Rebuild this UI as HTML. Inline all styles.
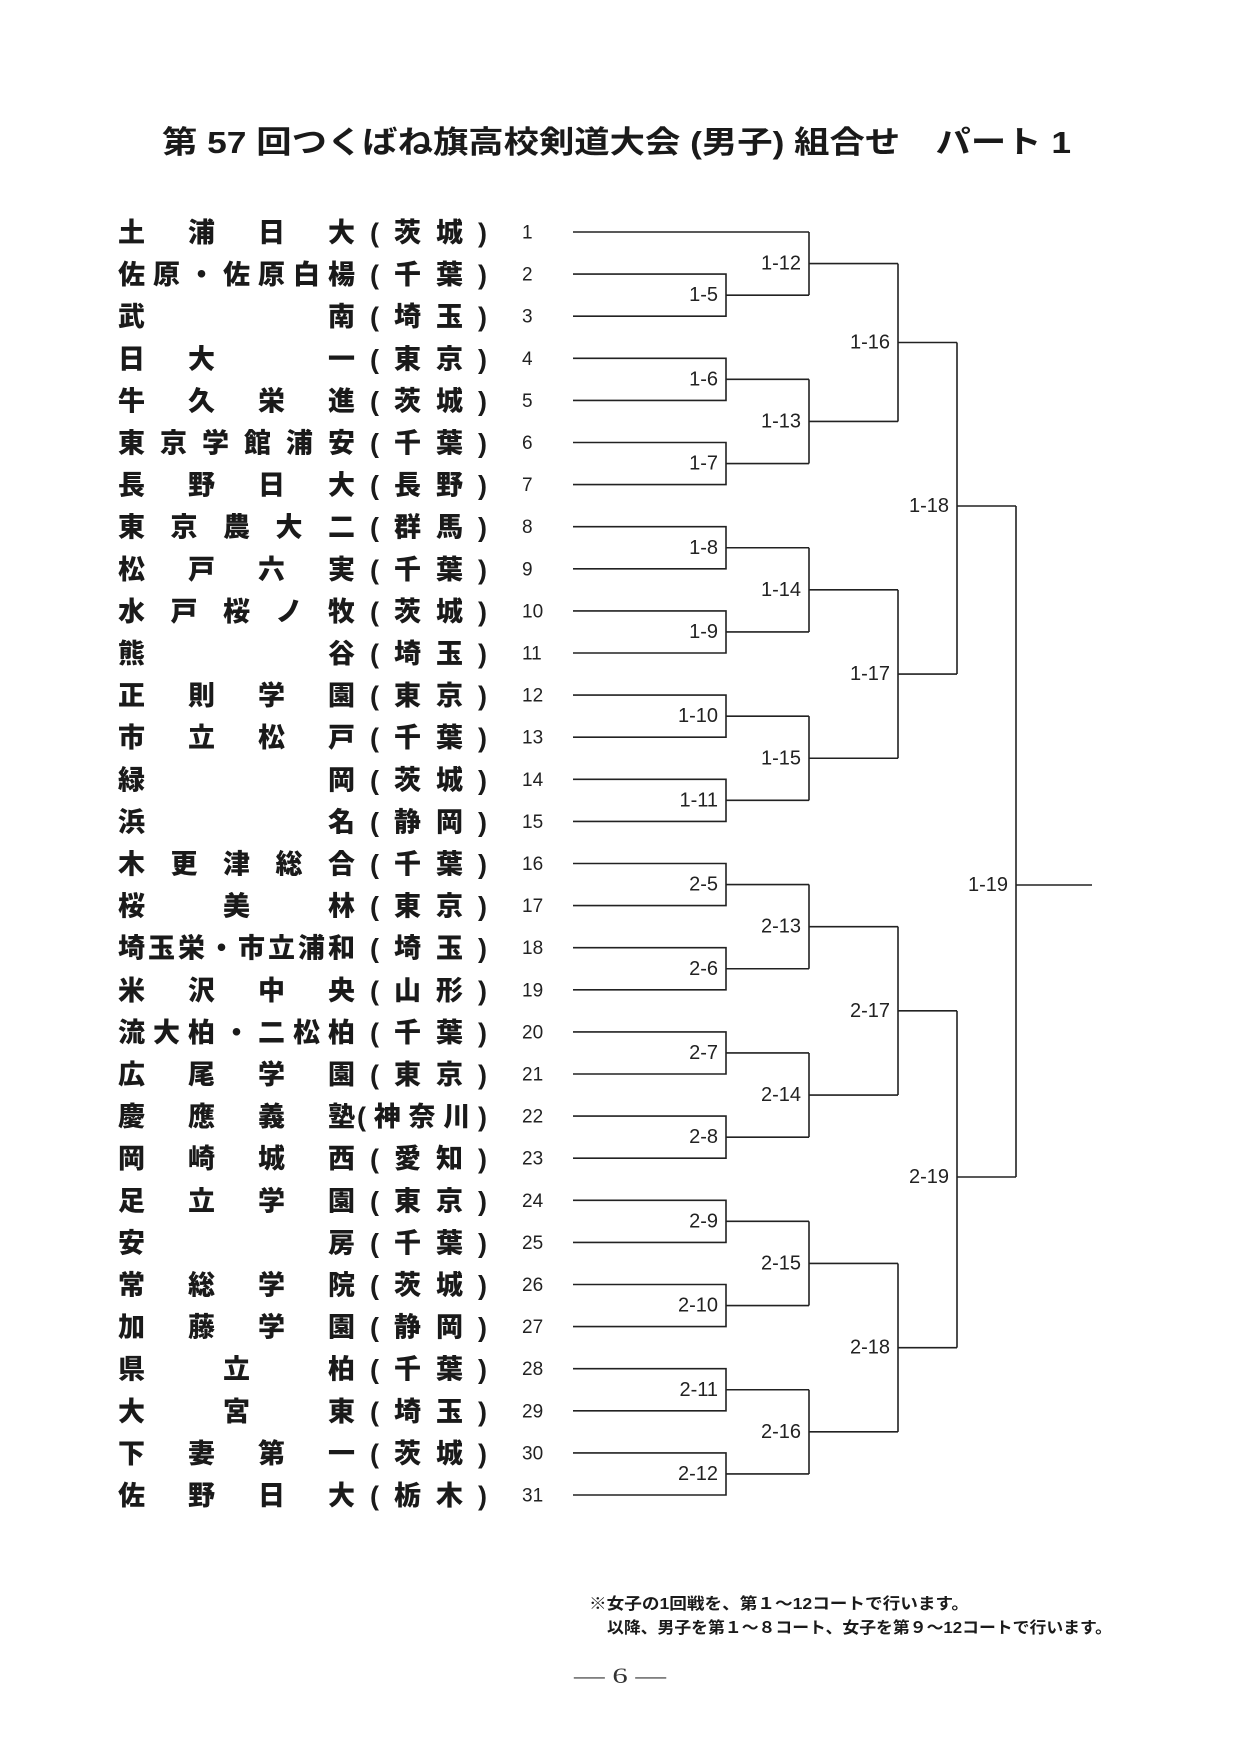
<!DOCTYPE html>
<html><head><meta charset="utf-8">
<style>
html,body{margin:0;padding:0;background:#fff;}
svg{display:block;}
.t{font-family:"Liberation Sans","Noto Sans CJK JP",sans-serif;font-weight:bold;fill:#1a1a1a;}
.n{font-family:"Liberation Sans","Noto Sans CJK JP",sans-serif;font-weight:900;font-size:27px;fill:#1a1a1a;dominant-baseline:central;}
.num{font-family:"Liberation Sans Narrow","Liberation Sans",sans-serif;font-size:19px;fill:#222;dominant-baseline:central;}
.lb{font-family:"Liberation Sans Narrow","Liberation Sans",sans-serif;font-size:20px;fill:#222;dominant-baseline:central;text-anchor:end;}
.ln{fill:none;stroke:#222;stroke-width:1.6;}
</style></head><body>
<svg width="1240" height="1753" viewBox="0 0 1240 1753" xmlns="http://www.w3.org/2000/svg">
<text class="t" x="162" y="153" font-size="31" textLength="909" lengthAdjust="spacingAndGlyphs">第 57 回つくばね旗高校剣道大会 (男子) 組合せ　パート 1</text>

<g class="n">
<text x="118" y="233" textLength="237" lengthAdjust="spacing">土浦日大</text>
<text x="118" y="275.1" textLength="237" lengthAdjust="spacing">佐原・佐原白楊</text>
<text x="118" y="317.2" textLength="237" lengthAdjust="spacing">武　　南</text>
<text x="118" y="359.3" textLength="237" lengthAdjust="spacing">日大　一</text>
<text x="118" y="401.4" textLength="237" lengthAdjust="spacing">牛久栄進</text>
<text x="118" y="443.5" textLength="237" lengthAdjust="spacing">東京学館浦安</text>
<text x="118" y="485.6" textLength="237" lengthAdjust="spacing">長野日大</text>
<text x="118" y="527.7" textLength="237" lengthAdjust="spacing">東京農大二</text>
<text x="118" y="569.8" textLength="237" lengthAdjust="spacing">松戸六実</text>
<text x="118" y="611.9" textLength="237" lengthAdjust="spacing">水戸桜ノ牧</text>
<text x="118" y="654" textLength="237" lengthAdjust="spacing">熊　　谷</text>
<text x="118" y="696.1" textLength="237" lengthAdjust="spacing">正則学園</text>
<text x="118" y="738.2" textLength="237" lengthAdjust="spacing">市立松戸</text>
<text x="118" y="780.3" textLength="237" lengthAdjust="spacing">緑　　岡</text>
<text x="118" y="822.4" textLength="237" lengthAdjust="spacing">浜　　名</text>
<text x="118" y="864.5" textLength="237" lengthAdjust="spacing">木更津総合</text>
<text x="118" y="906.6" textLength="237" lengthAdjust="spacing">桜　美　林</text>
<text x="118" y="948.7" textLength="237" lengthAdjust="spacing">埼玉栄・市立浦和</text>
<text x="118" y="990.8" textLength="237" lengthAdjust="spacing">米沢中央</text>
<text x="118" y="1032.9" textLength="237" lengthAdjust="spacing">流大柏・二松柏</text>
<text x="118" y="1075" textLength="237" lengthAdjust="spacing">広尾学園</text>
<text x="118" y="1117.1" textLength="237" lengthAdjust="spacing">慶應義塾</text>
<text x="118" y="1159.2" textLength="237" lengthAdjust="spacing">岡崎城西</text>
<text x="118" y="1201.3" textLength="237" lengthAdjust="spacing">足立学園</text>
<text x="118" y="1243.4" textLength="237" lengthAdjust="spacing">安　　房</text>
<text x="118" y="1285.5" textLength="237" lengthAdjust="spacing">常総学院</text>
<text x="118" y="1327.6" textLength="237" lengthAdjust="spacing">加藤学園</text>
<text x="118" y="1369.7" textLength="237" lengthAdjust="spacing">県　立　柏</text>
<text x="118" y="1411.8" textLength="237" lengthAdjust="spacing">大　宮　東</text>
<text x="118" y="1453.9" textLength="237" lengthAdjust="spacing">下妻第一</text>
<text x="118" y="1496" textLength="237" lengthAdjust="spacing">佐野日大</text>

<text x="370" y="233" textLength="117" lengthAdjust="spacing">(茨城)</text>
<text x="370" y="275.1" textLength="117" lengthAdjust="spacing">(千葉)</text>
<text x="370" y="317.2" textLength="117" lengthAdjust="spacing">(埼玉)</text>
<text x="370" y="359.3" textLength="117" lengthAdjust="spacing">(東京)</text>
<text x="370" y="401.4" textLength="117" lengthAdjust="spacing">(茨城)</text>
<text x="370" y="443.5" textLength="117" lengthAdjust="spacing">(千葉)</text>
<text x="370" y="485.6" textLength="117" lengthAdjust="spacing">(長野)</text>
<text x="370" y="527.7" textLength="117" lengthAdjust="spacing">(群馬)</text>
<text x="370" y="569.8" textLength="117" lengthAdjust="spacing">(千葉)</text>
<text x="370" y="611.9" textLength="117" lengthAdjust="spacing">(茨城)</text>
<text x="370" y="654" textLength="117" lengthAdjust="spacing">(埼玉)</text>
<text x="370" y="696.1" textLength="117" lengthAdjust="spacing">(東京)</text>
<text x="370" y="738.2" textLength="117" lengthAdjust="spacing">(千葉)</text>
<text x="370" y="780.3" textLength="117" lengthAdjust="spacing">(茨城)</text>
<text x="370" y="822.4" textLength="117" lengthAdjust="spacing">(静岡)</text>
<text x="370" y="864.5" textLength="117" lengthAdjust="spacing">(千葉)</text>
<text x="370" y="906.6" textLength="117" lengthAdjust="spacing">(東京)</text>
<text x="370" y="948.7" textLength="117" lengthAdjust="spacing">(埼玉)</text>
<text x="370" y="990.8" textLength="117" lengthAdjust="spacing">(山形)</text>
<text x="370" y="1032.9" textLength="117" lengthAdjust="spacing">(千葉)</text>
<text x="370" y="1075" textLength="117" lengthAdjust="spacing">(東京)</text>
<text x="357" y="1117.1" textLength="130" lengthAdjust="spacing">(神奈川)</text>
<text x="370" y="1159.2" textLength="117" lengthAdjust="spacing">(愛知)</text>
<text x="370" y="1201.3" textLength="117" lengthAdjust="spacing">(東京)</text>
<text x="370" y="1243.4" textLength="117" lengthAdjust="spacing">(千葉)</text>
<text x="370" y="1285.5" textLength="117" lengthAdjust="spacing">(茨城)</text>
<text x="370" y="1327.6" textLength="117" lengthAdjust="spacing">(静岡)</text>
<text x="370" y="1369.7" textLength="117" lengthAdjust="spacing">(千葉)</text>
<text x="370" y="1411.8" textLength="117" lengthAdjust="spacing">(埼玉)</text>
<text x="370" y="1453.9" textLength="117" lengthAdjust="spacing">(茨城)</text>
<text x="370" y="1496" textLength="117" lengthAdjust="spacing">(栃木)</text>
</g>

<g class="num">
<text x="522" y="233">1</text><text x="522" y="275.1">2</text><text x="522" y="317.2">3</text><text x="522" y="359.3">4</text><text x="522" y="401.4">5</text><text x="522" y="443.5">6</text><text x="522" y="485.6">7</text><text x="522" y="527.7">8</text><text x="522" y="569.8">9</text><text x="522" y="611.9">10</text><text x="522" y="654">11</text><text x="522" y="696.1">12</text><text x="522" y="738.2">13</text><text x="522" y="780.3">14</text><text x="522" y="822.4">15</text><text x="522" y="864.5">16</text><text x="522" y="906.6">17</text><text x="522" y="948.7">18</text><text x="522" y="990.8">19</text><text x="522" y="1032.9">20</text><text x="522" y="1075">21</text><text x="522" y="1117.1">22</text><text x="522" y="1159.2">23</text><text x="522" y="1201.3">24</text><text x="522" y="1243.4">25</text><text x="522" y="1285.5">26</text><text x="522" y="1327.6">27</text><text x="522" y="1369.7">28</text><text x="522" y="1411.8">29</text><text x="522" y="1453.9">30</text><text x="522" y="1496">31</text>
</g>

<g class="ln">
<path d="M573 232H809"/>
<path d="M573 274.1H726V316.2H573M726 295.15H809"/>
<path d="M573 358.3H726V400.4H573M726 379.35H809"/>
<path d="M573 442.5H726V484.6H573M726 463.55H809"/>
<path d="M573 526.7H726V568.8H573M726 547.75H809"/>
<path d="M573 610.9H726V653H573M726 631.95H809"/>
<path d="M573 695.1H726V737.2H573M726 716.15H809"/>
<path d="M573 779.3H726V821.4H573M726 800.35H809"/>
<path d="M573 863.5H726V905.6H573M726 884.55H809"/>
<path d="M573 947.7H726V989.8H573M726 968.75H809"/>
<path d="M573 1031.9H726V1074H573M726 1052.95H809"/>
<path d="M573 1116.1H726V1158.2H573M726 1137.15H809"/>
<path d="M573 1200.3H726V1242.4H573M726 1221.35H809"/>
<path d="M573 1284.5H726V1326.6H573M726 1305.55H809"/>
<path d="M573 1368.7H726V1410.8H573M726 1389.75H809"/>
<path d="M573 1452.9H726V1495H573M726 1473.95H809"/>
<path d="M809 232V295.15M809 263.6H898"/>
<path d="M809 379.35V463.55M809 421.45H898"/>
<path d="M809 547.75V631.95M809 589.85H898"/>
<path d="M809 716.15V800.35M809 758.25H898"/>
<path d="M809 884.55V968.75M809 926.65H898"/>
<path d="M809 1052.95V1137.15M809 1095.05H898"/>
<path d="M809 1221.35V1305.55M809 1263.45H898"/>
<path d="M809 1389.75V1473.95M809 1431.85H898"/>
<path d="M898 263.6V421.45M898 342.5H957"/>
<path d="M898 589.85V758.25M898 674.05H957"/>
<path d="M898 926.65V1095.05M898 1010.85H957"/>
<path d="M898 1263.45V1431.85M898 1347.65H957"/>
<path d="M957 342.5V674.05M957 506H1016"/>
<path d="M957 1010.85V1347.65M957 1177H1016"/>
<path d="M1016 506V1177M1016 885H1092"/>
</g>

<g class="lb">
<text x="718" y="295.15">1-5</text><text x="718" y="379.35">1-6</text><text x="718" y="463.55">1-7</text><text x="718" y="547.75">1-8</text><text x="718" y="631.95">1-9</text><text x="718" y="716.15">1-10</text><text x="718" y="800.35">1-11</text>
<text x="718" y="884.55">2-5</text><text x="718" y="968.75">2-6</text><text x="718" y="1052.95">2-7</text><text x="718" y="1137.15">2-8</text><text x="718" y="1221.35">2-9</text><text x="718" y="1305.55">2-10</text><text x="718" y="1389.75">2-11</text><text x="718" y="1473.95">2-12</text>
<text x="801" y="263.6">1-12</text><text x="801" y="421.45">1-13</text><text x="801" y="589.85">1-14</text><text x="801" y="758.25">1-15</text>
<text x="801" y="926.65">2-13</text><text x="801" y="1095.05">2-14</text><text x="801" y="1263.45">2-15</text><text x="801" y="1431.85">2-16</text>
<text x="890" y="342.5">1-16</text><text x="890" y="674.05">1-17</text><text x="890" y="1010.85">2-17</text><text x="890" y="1347.65">2-18</text>
<text x="949" y="506">1-18</text><text x="949" y="1177">2-19</text>
<text x="1008" y="885">1-19</text>
</g>

<text class="t" x="589" y="1609" font-size="16" textLength="380" lengthAdjust="spacingAndGlyphs">※女子の1回戦を、第１～12コートで行います。</text>
<text class="t" x="607" y="1633" font-size="16" textLength="505" lengthAdjust="spacingAndGlyphs">以降、男子を第１～８コート、女子を第９～12コートで行います。</text>
<text x="574" y="1683" font-family="Liberation Serif,serif" font-size="22" fill="#333" textLength="92" lengthAdjust="spacingAndGlyphs">— 6 —</text>
</svg>
</body></html>
